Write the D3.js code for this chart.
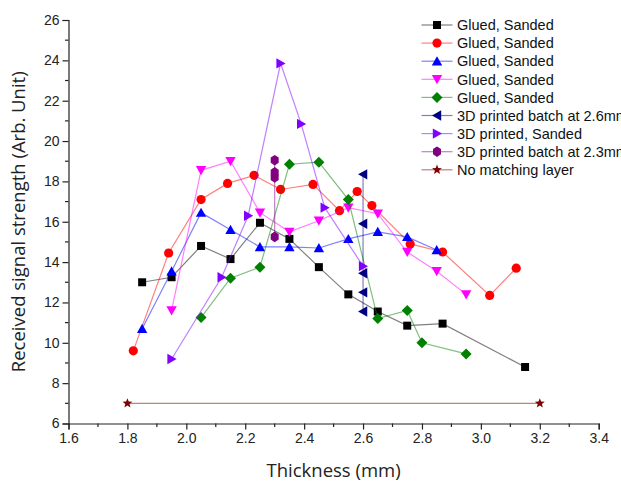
<!DOCTYPE html>
<html><head><meta charset="utf-8">
<script src="https://cdn.jsdelivr.net/npm/d3@7"></script>
<style>html,body{margin:0;padding:0;background:#fff;overflow:hidden}</style>
</head><body><svg id="c" width="621" height="488"></svg>
<script>
// ---- data ----
const blackX = [1.85,1.95,2.05,2.15,2.25,2.35,2.45,2.55,2.65,2.75,2.87,3.15];
const blackY = [13.0,13.25,14.8,14.15,15.95,15.15,13.75,12.4,11.55,10.85,10.95,8.8];
const redX = [1.82,1.94,2.05,2.14,2.23,2.32,2.43,2.52,2.58,2.63,2.76,2.87,3.03,3.12];
const redY = [9.6,14.45,17.1,17.9,18.3,17.6,17.85,16.55,17.5,16.8,14.9,14.5,12.35,13.7];
const blueX = [1.85,1.95,2.05,2.15,2.25,2.35,2.45,2.55,2.65,2.75,2.85];
const blueY = [10.7,13.55,16.45,15.6,14.75,14.75,14.7,15.15,15.5,15.25,14.6];
const magentaX = [1.95,2.05,2.15,2.25,2.35,2.45,2.55,2.65,2.75,2.85,2.95];
const magentaY = [11.6,18.55,19.0,16.45,15.5,16.05,16.7,16.4,14.5,13.55,12.4];
const greenX = [2.05,2.15,2.25,2.35,2.45,2.55,2.65,2.75,2.8,2.95];
const greenY = [11.25,13.2,13.75,18.85,18.95,17.1,11.2,11.6,10.0,9.45];
const navyX = [2.6,2.6,2.6,2.6,2.6];
const navyY = [18.35,15.9,13.45,12.5,11.55];
const violetX = [1.95,2.12,2.21,2.32,2.39,2.47,2.6];
const violetY = [9.2,13.25,16.3,23.85,20.85,16.7,13.8];
const hexX = [2.3,2.3,2.3,2.3];
const hexY = [19.05,18.45,18.2,15.25];
const starX = [1.8,3.2];
const starY = [7,7];

const seriesNames = ["Glued, Sanded","Glued, Sanded","Glued, Sanded","Glued, Sanded","Glued, Sanded",
  "3D printed batch at 2.6mm","3D printed, Sanded","3D printed batch at 2.3mm","No matching layer"];
const seriesColors = ["#000000","#ff0000","#0000ff","#ff00ff","#008000","#000080","#8000ff","#800080","#800000"];
const seriesShapes = ["square","circle","up","down","diamond","left","right","hex","star"];
const seriesXs = [blackX,redX,blueX,magentaX,greenX,navyX,violetX,hexX,starX];
const seriesYs = [blackY,redY,blueY,magentaY,greenY,navyY,violetY,hexY,starY];

const xTicks = [1.6,1.8,2.0,2.2,2.4,2.6,2.8,3.0,3.2,3.4];
const yTicks = [6,8,10,12,14,16,18,20,22,24,26];
const xTitle = "Thickness (mm)";
const yTitle = "Received signal strength (Arb. Unit)";

// ---- layout ----
const L = 68.5, R = 598.7, T = 20, B = 423.5;
const x = d3.scaleLinear().domain([1.6,3.4]).range([L,R]);
const y = d3.scaleLinear().domain([6,26]).range([B,T]);
const svg = d3.select("#c");

function markerPath(shape) {
  switch (shape) {
    case "square": return "M-4,-4H4V4H-4Z";
    case "circle": return "M-4.6,0A4.6,4.6 0 1,0 4.6,0A4.6,4.6 0 1,0 -4.6,0Z";
    case "up": return "M0,-5L5.2,4.2L-5.2,4.2Z";
    case "down": return "M0,5L5.2,-4.2L-5.2,-4.2Z";
    case "left": return "M-5,0L4.2,-5.2L4.2,5.2Z";
    case "right": return "M5,0L-4.2,-5.2L-4.2,5.2Z";
    case "diamond": return "M0,-5.5L5.5,0L0,5.5L-5.5,0Z";
    case "hex": {
      const p = d3.range(6).map(i => { const a = Math.PI/2 + i*Math.PI/3; return [4.6*Math.cos(a), -5.3*Math.sin(a)]; });
      return "M" + p.map(q => q.join(",")).join("L") + "Z";
    }
    case "star": {
      const p = d3.range(10).map(i => { const r = i%2 ? 2.2 : 5.2; const a = -Math.PI/2 + i*Math.PI/5; return [r*Math.cos(a), r*Math.sin(a)]; });
      return "M" + p.map(q => q.join(",")).join("L") + "Z";
    }
  }
}

// ---- axes ----
const axisColor = "#222";
const xAxis = d3.axisBottom(x).tickValues(xTicks).tickFormat(d3.format(".1f")).tickSize(6).tickPadding(4);
const gx = svg.append("g").attr("transform", `translate(0,${B})`).call(xAxis);
const yAxis = d3.axisLeft(y).tickValues(yTicks).tickFormat(d3.format("d")).tickSize(6).tickPadding(3);
const gy = svg.append("g").attr("transform", `translate(${L},0)`).call(yAxis);
[gx,gy].forEach(g => {
  g.select(".domain").attr("stroke", axisColor).attr("stroke-width", 1.2);
  g.selectAll(".tick line").attr("stroke", axisColor).attr("stroke-width", 1.2);
  g.selectAll(".tick text").attr("fill", "#222").style("font-family", "'Liberation Sans', Arial, sans-serif").style("font-size", "14px");
});
// minor ticks
const xMinor = d3.range(1.7, 3.4, 0.2);
svg.append("g").selectAll("line").data(xMinor).join("line")
  .attr("x1", d => x(d)).attr("x2", d => x(d)).attr("y1", B).attr("y2", B + 3.5)
  .attr("stroke", axisColor).attr("stroke-width", 1.2);
const yMinor = d3.range(7, 26, 2);
svg.append("g").selectAll("line").data(yMinor).join("line")
  .attr("x1", L - 3.5).attr("x2", L).attr("y1", d => y(d)).attr("y2", d => y(d))
  .attr("stroke", axisColor).attr("stroke-width", 1.2);

// titles
svg.append("text").attr("x", (L + R) / 2).attr("y", 477).attr("text-anchor", "middle")
  .style("font-family", "'Open Sans', 'Noto Sans', sans-serif").style("font-size", "18.5px").attr("fill", "#222").text(xTitle);
svg.append("text").attr("transform", `translate(25,${(T + B) / 2}) rotate(-90)`).attr("text-anchor", "middle")
  .style("font-family", "'Open Sans', 'Noto Sans', sans-serif").style("font-size", "18.5px").attr("fill", "#222").text(yTitle);

// ---- series ----
const drawOrder = [8,0,1,2,3,4,5,6,7];
drawOrder.forEach(i => {
  const pts = seriesXs[i].map((v, k) => [v, seriesYs[i][k]]);
  const g = svg.append("g");
  g.append("path").datum(pts)
    .attr("d", d3.line().x(d => x(d[0])).y(d => y(d[1])))
    .attr("fill", "none").attr("stroke", seriesColors[i]).attr("stroke-opacity", 0.5).attr("stroke-width", 1.2);
  g.selectAll("path.m").data(pts).join("path").attr("class", "m")
    .attr("transform", d => `translate(${x(d[0])},${y(d[1])})`)
    .attr("d", markerPath(seriesShapes[i])).attr("fill", seriesColors[i]);
});

// ---- legend ----
const lg = svg.append("g");
seriesNames.forEach((name, i) => {
  const yy = 25 + i * 18.1;
  lg.append("line").attr("x1", 421.5).attr("x2", 452.5).attr("y1", yy).attr("y2", yy)
    .attr("stroke", seriesColors[i]).attr("stroke-opacity", 0.5).attr("stroke-width", 1.2);
  lg.append("path").attr("transform", `translate(437,${yy})`).attr("d", markerPath(seriesShapes[i])).attr("fill", seriesColors[i]);
  lg.append("text").attr("x", 457).attr("y", yy).attr("dy", "0.36em")
    .style("font-family", "'Liberation Sans', Arial, sans-serif").style("font-size", "14.5px").attr("fill", "#111").text(name);
});
</script>
</body></html>
